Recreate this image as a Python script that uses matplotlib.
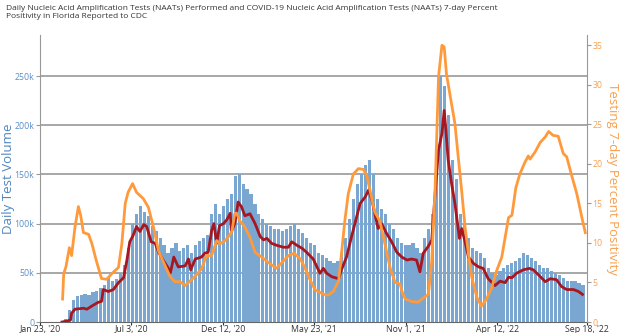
import numpy as np
import matplotlib
matplotlib.use("Agg")
import matplotlib.pyplot as plt
import matplotlib.dates as mdates

plt.rcParams['font.family'] = ['Open Sans', 'DejaVu Sans']

# x positions are days after Jan 23, 2020
start = np.datetime64('2020-01-23')

# weekly test volume (thousands), weeks starting at day 42
bar_first_day = 42
bar_vals = [3, 12, 22, 26, 27, 28, 27, 30, 32, 35, 38, 45, 42, 44, 50, 58, 75, 100,
            110, 118, 112, 108, 98, 92, 85, 78, 70, 75, 80, 72, 75, 78, 70, 78, 82, 85,
            88, 110, 120, 110, 118, 125, 130, 148, 150, 140, 135, 130, 120, 110, 105, 100,
            98, 95, 95, 92, 95, 98, 100, 95, 90, 85, 80, 78, 70, 68, 65, 62, 60, 62,
            70, 85, 105, 125, 140, 150, 160, 165, 150, 125, 115, 110, 100, 95, 85, 80,
            78, 78, 80, 75, 70, 85, 95, 110, 175, 250, 240, 210, 165, 145, 110, 100,
            85, 75, 72, 70, 65, 55, 50, 48, 52, 55, 58, 60, 62, 65, 70, 68, 65, 62,
            58, 55, 55, 52, 50, 48, 45, 42, 42, 42, 40, 38]

# 7-day average test volume (thousands)
avg_days = [39, 48, 54, 56, 62, 77, 83, 94, 103, 109, 112, 121, 130, 139, 148, 154, 159,
            165, 171, 177, 184, 189, 197, 204, 210, 218, 227, 231, 237, 245, 257, 263,
            267, 275, 286, 292, 298, 304, 308, 313, 318, 325, 331, 337, 339, 345, 351,
            357, 363, 372, 381, 390, 396, 402, 410, 419, 431, 440, 446, 455, 464, 472,
            484, 496, 502, 508, 517, 529, 534, 543, 552, 561, 567, 576, 582, 588, 593,
            599, 605, 614, 623, 632, 641, 650, 658, 667, 673, 679, 688, 694, 700, 706,
            712, 716, 719, 723, 729, 735, 743, 747, 753, 759, 768, 777, 785, 794, 806,
            815, 824, 830, 836, 844, 856, 867, 874, 883, 895, 904, 915, 924, 933, 945,
            954, 961]
avg_vals = [0, 1, 2, 9, 13, 14, 13, 17, 20, 21, 33, 31, 33, 40, 45, 63, 81.5,
            88, 97, 92, 99, 97, 81.5, 80, 71, 63, 55, 50, 66, 56, 57, 64,
            53, 64, 66, 70, 71, 93, 100, 80, 98, 100, 104, 110.5, 92, 100, 122,
            117, 108, 110, 100, 87, 83.5, 85, 80, 78, 76, 76, 81.5, 78, 75, 71,
            64, 49.5, 54.5, 49.5, 46, 44, 53, 66, 87, 107, 120.5, 127, 134, 124, 110.5,
            95, 100, 90, 81.5, 71, 66, 63, 64, 63, 51, 70, 77, 83.5, 131, 175,
            191.5, 215, 195, 165, 141, 120.5, 85, 95, 81.5, 66, 59.5, 56, 54.5, 44, 37,
            41.5, 40, 45.5, 45, 49.5, 53, 54.5, 53, 48, 41, 44, 43, 36, 33, 33,
            31, 28]

# 7-day percent positivity
pos_days = [40, 42, 46, 52, 56, 62, 68, 72, 77, 86, 92, 100, 109, 118, 127, 139, 145,
            151, 156, 164, 171, 183, 192, 201, 210, 218, 230, 239, 248, 257, 266, 275,
            286, 295, 304, 313, 319, 328, 337, 340, 345, 348, 354, 363, 372, 381, 393,
            405, 419, 431, 440, 450, 461, 469, 478, 487, 502, 511, 520, 529, 534, 540,
            546, 555, 564, 573, 579, 586, 593, 602, 611, 620, 629, 638, 641, 647, 658,
            670, 680, 688, 694, 700, 706, 712, 716, 720, 729, 735, 741, 747, 753, 759,
            765, 774, 782, 791, 800, 809, 818, 824, 830, 836, 843, 850, 859, 865, 868,
            877, 886, 895, 901, 909, 918, 927, 933, 942, 951, 960, 966]
pos_vals = [2.9, 6.1, 7.0, 9.4, 8.4, 12.0, 14.6, 13.5, 11.3, 11.1, 9.9, 7.7, 5.5, 5.4, 6.1, 6.9, 9.9,
            15.0, 16.4, 17.5, 16.4, 15.6, 14.5, 12.0, 9.0, 7.7, 5.8, 5.1, 5.1, 4.6, 5.2, 5.8,
            6.7, 8.4, 8.4, 10.3, 9.9, 10.3, 11.1, 11.5, 13.7, 13.8, 12.8, 12.0, 10.7, 8.8, 8.2,
            7.5, 6.8, 7.7, 8.4, 8.7, 8.0, 6.9, 5.4, 4.1, 3.5, 3.4, 3.9, 5.2, 8.6, 12.8,
            16.2, 18.7, 19.4, 19.3, 18.5, 16.2, 13.9, 12.8, 9.9, 6.9, 5.0, 4.8, 3.9, 2.9, 2.6,
            2.5, 3.1, 3.5, 7.7, 17.0, 31.0, 35.0, 34.8, 31.4, 27.6, 25.1, 20.8, 16.6, 12.0, 8.6,
            5.6, 3.1, 2.0, 2.9, 4.3, 6.5, 8.2, 10.7, 13.2, 13.5, 17.0, 18.7, 20.2, 21.0, 20.6,
            21.5, 22.7, 23.4, 24.1, 23.6, 23.5, 21.3, 20.9, 18.5, 16.2, 13.2, 11.3]

tick_days = [0, 162, 324, 486, 648, 810, 969]
tick_labels = ["Jan 23, '20", "Jul 3, '20", "Dec 12, '20", "May 23, '21",
               "Nov 1, '21", "Apr 12, '22", "Sep 18, '22"]

def to_dates(days):
    return (start + np.array(days, dtype='timedelta64[D]')).astype('datetime64[D]')

bar_days = bar_first_day + 7 * np.arange(len(bar_vals))

fig = plt.figure(figsize=(6.24, 3.33), dpi=100)
ax = fig.add_axes([40 / 624, 11 / 333, 547 / 624, 287 / 333])

ax.bar(mdates.date2num(to_dates(bar_days)), np.array(bar_vals) * 1000, width=5.6,
       align='edge', color='#7aa7d1', edgecolor='none', zorder=2)
ax.plot(mdates.date2num(to_dates(avg_days)), np.array(avg_vals) * 1000,
        color='#a8161f', lw=2, zorder=4)

ax.set_xlim(mdates.date2num(to_dates([0]))[0], mdates.date2num(to_dates([969]))[0])
ax.set_ylim(0, 291700)
ax.set_yticks([0, 50000, 100000, 150000, 200000, 250000])
ax.set_yticklabels(['0', '50k', '100k', '150k', '200k', '250k'])
for v in [50000, 100000, 150000, 200000, 250000]:
    ax.axhline(v, color='#a0a0a0', lw=1.3, zorder=1)
ax.set_xticks(mdates.date2num(to_dates(tick_days)))
ax.set_xticklabels(tick_labels)
ax.tick_params(axis='x', labelsize=6.3, colors='#333333', length=2, pad=0.5)
ax.tick_params(axis='y', labelsize=6.3, labelcolor='#5b8fc7', color='#999999', length=3, pad=1)
ax.set_ylabel('Daily Test Volume', color='#4f86c0', fontsize=9.5)
ax.yaxis.set_label_coords(-0.046, 0.5)
for s in ['top', 'right']:
    ax.spines[s].set_visible(False)
ax.spines['left'].set_color('#999999')
ax.spines['bottom'].set_color('#666666')

ax2 = ax.twinx()
ax2.plot(mdates.date2num(to_dates(pos_days)), pos_vals, color='#ff9a3c', lw=2, zorder=3)
ax2.set_ylim(0, 36.3)
ax2.set_yticks([0, 5, 10, 15, 20, 25, 30, 35])
ax2.tick_params(axis='y', labelsize=6.3, labelcolor='#f7a150', color='#999999', length=3, pad=1)
ax2.set_ylabel('Testing 7-day Percent Positivity', color='#f7a150', fontsize=9.5,
               rotation=270, va='center')
ax2.yaxis.set_label_coords(1.046, 0.5)
for s in ['top', 'left', 'bottom']:
    ax2.spines[s].set_visible(False)
ax2.spines['right'].set_color('#999999')

fig.text(6 / 624, 1 - 5 / 333,
         "Daily Nucleic Acid Amplification Tests (NAATs) Performed and COVID-19 Nucleic Acid Amplification Tests (NAATs) 7-day Percent\nPositivity in Florida Reported to CDC",
         fontsize=6.0, color='#333333', va='top', ha='left', linespacing=1.3)

fig.savefig('out.png', dpi=100)
